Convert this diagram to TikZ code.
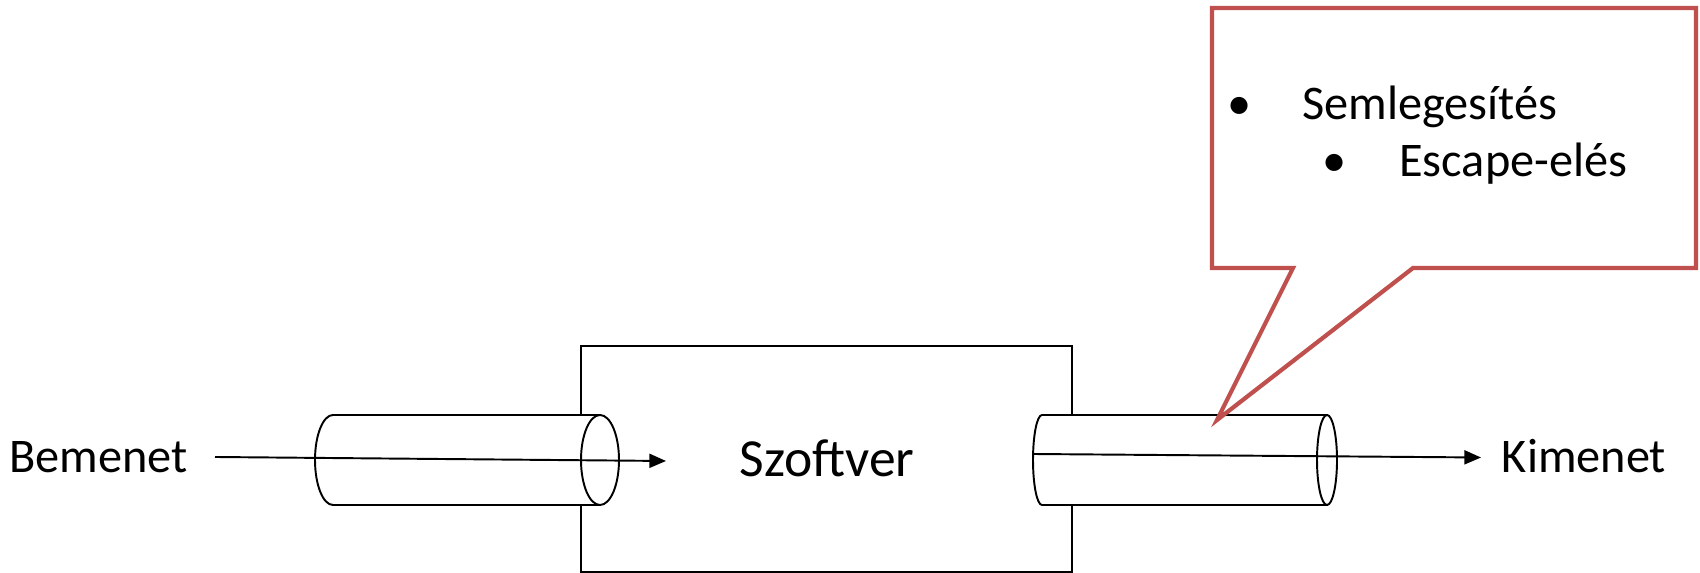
\documentclass[tikz,border=0pt]{standalone}
\usepackage{fontspec}
\setmainfont{Carlito}
\usetikzlibrary{arrows.meta}
\definecolor{calloutred}{RGB}{192,80,77}
\begin{document}
\begin{tikzpicture}[x=0.02cm,y=0.02cm,
  lbl/.style={font=\fontsize{27.5}{33}\selectfont, inner sep=0pt, anchor=base},
  biglbl/.style={font=\fontsize{30.5}{36}\selectfont, inner sep=0pt, anchor=base},
  boxstyle/.style={draw, line width=1.1pt, fill=white, inner sep=0pt},
  cyl/.style={draw, line width=1.1pt, fill=white},
  flow/.style={-{Triangle[length=9.5pt,width=8pt]}, line width=1.1pt},
  callout/.style={draw=calloutred, line width=2.4pt, fill=white, line join=miter}]
\useasboundingbox (0,0) rectangle (1700,573);

% software box
\node[boxstyle, minimum width=9.82cm, minimum height=4.52cm] (sw) at (826.5,114) {};

% left cylinder
\draw[cyl] (333,158) -- (600,158) -- (600,68) -- (333,68)
  arc[start angle=270, end angle=90, x radius=18, y radius=45] -- cycle;
\draw[cyl] (600,113) ellipse[x radius=19, y radius=45];

% right cylinder
\draw[cyl] (1042,158) -- (1327,158) -- (1327,68) -- (1042,68)
  arc[start angle=270, end angle=90, x radius=9, y radius=45] -- cycle;
\draw[cyl] (1327,113) ellipse[x radius=10, y radius=45];

% labels
\node[lbl] (in) at (98.5,100) {Bemenet};
\node[biglbl] (swlabel) at (827,96) {Szoftver};
\node[lbl] (out) at (1584,100) {Kimenet};

% arrows
\coordinate (a1s) at (215,116);
\coordinate (a1e) at (666,112);
\coordinate (a2s) at (1032,119);
\coordinate (a2e) at (1481,115.5);
\draw[flow] (a1s) -- (a1e);
\draw[flow] (a2s) -- (a2e);

% callout
\coordinate (tip) at (1217,153);
\draw[callout] (1212,565) -- (1696,565) -- (1696,305) -- (1413,305) -- (tip)
  -- (1293,305) -- (1212,305) -- cycle;
\node[lbl] (b1) at (1240,453) {•};
\node[lbl, anchor=base west] (t1) at (1302,453) {Semlegesítés};
\node[lbl] (b2) at (1335,396) {•};
\node[lbl, anchor=base west] (t2) at (1399,396) {Escape-elés};
\end{tikzpicture}
\end{document}
